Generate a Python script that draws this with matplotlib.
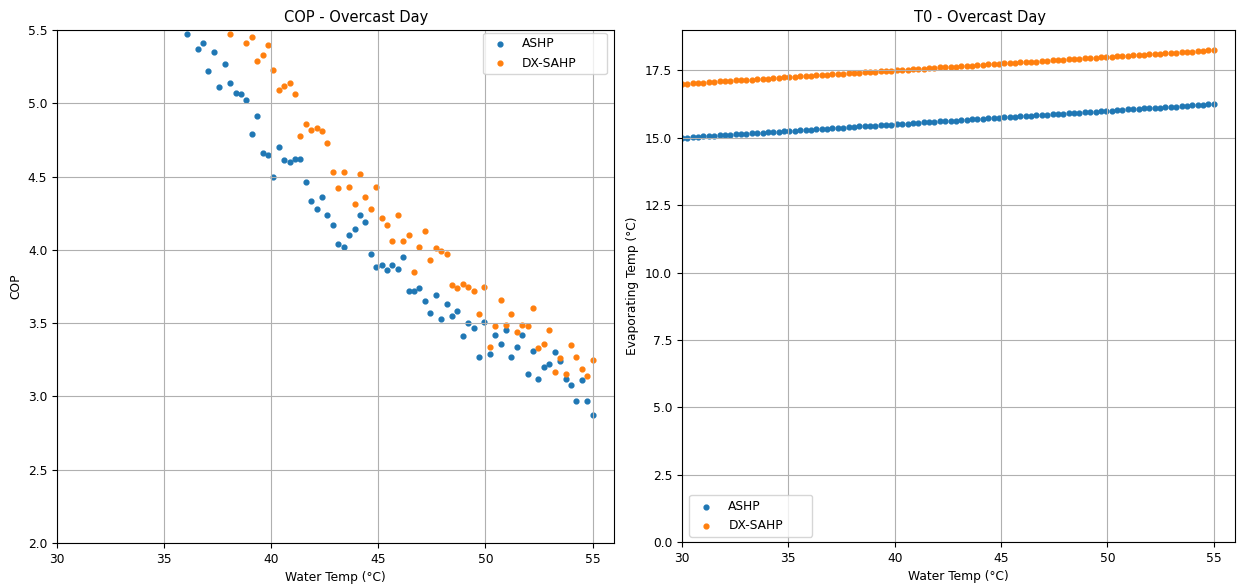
import numpy as np
import matplotlib
matplotlib.use("Agg")
import matplotlib.pyplot as plt

plt.rcParams["font.size"] = 8.8

# water temperature sweep, 100 steps from 30 to 55 °C
water_temp = np.linspace(30, 55, 100)

# COP from 36 °C upward (values above 5.5 fall outside the axis and are left as NaN)
cop_temp = water_temp[24:]
cop_ashp = [
    5.47, np.nan, 5.37, 5.41, 5.22, 5.35, 5.11, 5.27,
    5.14, 5.07, 5.06, 5.02, 4.79, 4.91, 4.66, 4.65,
    4.50, 4.70, 4.61, 4.60, 4.62, 4.62, 4.46, 4.33,
    4.28, 4.36, 4.24, 4.17, 4.04, 4.02, 4.10, 4.14,
    4.24, 4.19, 3.97, 3.88, 3.90, 3.86, 3.90, 3.87,
    3.95, 3.72, 3.72, 3.74, 3.65, 3.57, 3.69, 3.53,
    3.63, 3.55, 3.58, 3.41, 3.50, 3.47, 3.27, 3.51,
    3.29, 3.42, 3.36, 3.45, 3.27, 3.34, 3.42, 3.15,
    3.31, 3.12, 3.20, 3.22, 3.30, 3.24, 3.12, 3.08,
    2.97, 3.11, 2.97, 2.87,
]
cop_dxsahp = [
    np.nan, np.nan, np.nan, np.nan, np.nan, np.nan, np.nan, np.nan,
    5.47, np.nan, np.nan, 5.41, 5.45, 5.29, 5.33, 5.40,
    5.23, 5.09, 5.12, 5.14, 5.06, 4.78, 4.86, 4.82,
    4.83, 4.81, 4.73, 4.53, 4.42, 4.53, 4.43, 4.31,
    4.52, 4.36, 4.28, 4.43, 4.22, 4.17, 4.06, 4.24,
    4.06, 4.10, 3.85, 4.02, 4.13, 3.93, 4.01, 3.99,
    3.97, 3.76, 3.74, 3.77, 3.75, 3.72, 3.56, 3.75,
    3.34, 3.48, 3.66, 3.49, 3.56, 3.44, 3.49, 3.48,
    3.60, 3.33, 3.36, 3.45, 3.17, 3.26, 3.15, 3.35,
    3.27, 3.19, 3.14, 3.25,
]

# evaporating temperature over the full sweep
t0_ashp = [
    15.00, 15.01, 15.03, 15.04, 15.05, 15.06, 15.08, 15.09, 15.10, 15.11,
    15.13, 15.14, 15.15, 15.16, 15.18, 15.19, 15.20, 15.21, 15.23, 15.24,
    15.25, 15.27, 15.28, 15.29, 15.30, 15.32, 15.33, 15.34, 15.35, 15.37,
    15.38, 15.39, 15.40, 15.42, 15.43, 15.44, 15.45, 15.47, 15.48, 15.49,
    15.51, 15.52, 15.53, 15.54, 15.56, 15.57, 15.58, 15.59, 15.61, 15.62,
    15.63, 15.64, 15.66, 15.67, 15.68, 15.69, 15.71, 15.72, 15.73, 15.74,
    15.76, 15.77, 15.78, 15.80, 15.81, 15.82, 15.83, 15.85, 15.86, 15.87,
    15.88, 15.90, 15.91, 15.92, 15.93, 15.95, 15.96, 15.97, 15.98, 16.00,
    16.01, 16.02, 16.04, 16.05, 16.06, 16.07, 16.09, 16.10, 16.11, 16.12,
    16.14, 16.15, 16.16, 16.17, 16.19, 16.20, 16.21, 16.22, 16.24, 16.25,
]
t0_dxsahp = [
    17.00, 17.01, 17.03, 17.04, 17.05, 17.06, 17.08, 17.09, 17.10, 17.11,
    17.13, 17.14, 17.15, 17.16, 17.18, 17.19, 17.20, 17.21, 17.23, 17.24,
    17.25, 17.27, 17.28, 17.29, 17.30, 17.32, 17.33, 17.34, 17.35, 17.37,
    17.38, 17.39, 17.40, 17.42, 17.43, 17.44, 17.45, 17.47, 17.48, 17.49,
    17.51, 17.52, 17.53, 17.54, 17.56, 17.57, 17.58, 17.59, 17.61, 17.62,
    17.63, 17.64, 17.66, 17.67, 17.68, 17.69, 17.71, 17.72, 17.73, 17.74,
    17.76, 17.77, 17.78, 17.80, 17.81, 17.82, 17.83, 17.85, 17.86, 17.87,
    17.88, 17.90, 17.91, 17.92, 17.93, 17.95, 17.96, 17.97, 17.98, 18.00,
    18.01, 18.02, 18.04, 18.05, 18.06, 18.07, 18.09, 18.10, 18.11, 18.12,
    18.14, 18.15, 18.16, 18.17, 18.19, 18.20, 18.21, 18.22, 18.24, 18.25,
]

fig = plt.figure(figsize=(12.38, 5.87), dpi=100)
ax1 = fig.add_axes([57 / 1238, 44 / 587, 557 / 1238, 513 / 587])
ax2 = fig.add_axes([682 / 1238, 45 / 587, 553 / 1238, 512 / 587])

dot = 12

ax1.scatter(cop_temp, cop_ashp, s=dot, label="ASHP")
ax1.scatter(cop_temp, cop_dxsahp, s=dot, label="DX-SAHP")
ax1.set_xlim(30, 56)
ax1.set_ylim(2.0, 5.5)
ax1.set_xlabel("Water Temp (°C)")
ax1.set_ylabel("COP")
ax1.set_title("COP - Overcast Day", x=0.537)
ax1.grid(True)
ax1.legend(loc="upper right", mode="expand", borderaxespad=0,
           bbox_to_anchor=(0.765, 0.0, 0.222, 0.995))

ax2.scatter(water_temp, t0_ashp, s=dot, label="ASHP")
ax2.scatter(water_temp, t0_dxsahp, s=dot, label="DX-SAHP")
ax2.set_xlim(30, 56)
ax2.set_ylim(0, 19.0)
ax2.set_xlabel("Water Temp (°C)")
ax2.set_ylabel("Evaporating Temp (°C)")
ax2.set_title("T0 - Overcast Day", x=0.539)
ax2.grid(True)
ax2.legend(loc="lower left", mode="expand", borderaxespad=0,
           bbox_to_anchor=(0.013, 0.01, 0.222, 0.5))

fig.savefig("out.png", dpi=100)
